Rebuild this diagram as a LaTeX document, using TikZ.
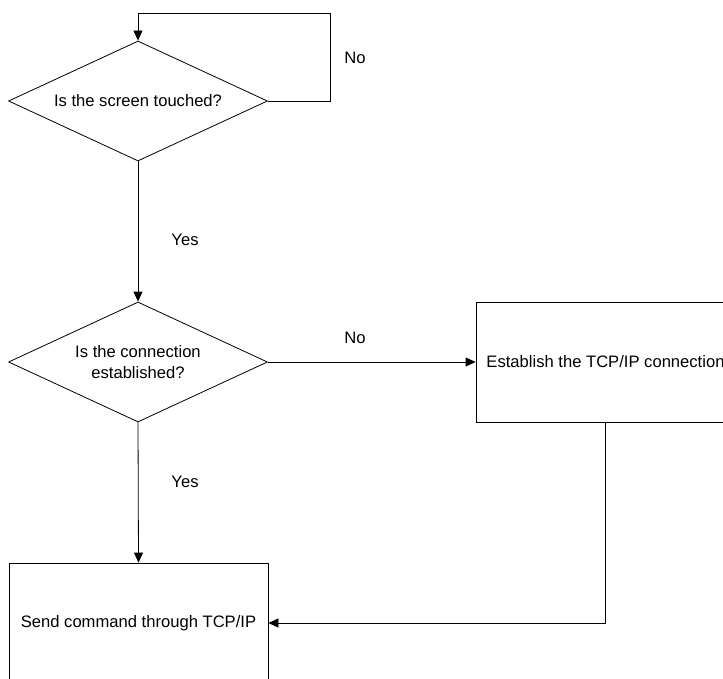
\documentclass[tikz,border=0pt]{standalone}
\usepackage{fontspec}
\setmainfont{Liberation Sans}
\usetikzlibrary{shapes.geometric,arrows.meta}
\begin{document}
\begin{tikzpicture}[x=1pt,y=-1pt,line width=0.8pt,
  font=\fontsize{16.6}{20.5}\selectfont,
  arr/.style={-{Triangle[length=10pt,width=9pt]}},
  decision/.style={draw,diamond,aspect=2.15,inner sep=0pt,minimum width=259pt,minimum height=120pt,align=center},
  procbox/.style={draw,rectangle,minimum width=259pt,minimum height=120pt,align=center}]
\clip (0,0) rectangle (723,679);
\def\loopx{330}\def\loopy{13}
\node[decision] (touched) at (138,101) {Is the screen touched?};
\node[decision] (conn) at (138,362) {Is the connection\\established?};
\node[procbox] (estab) at (605.5,362) {Establish the TCP/IP connection};
\node[procbox] (send) at (138.5,623) {Send command through TCP/IP};
\coordinate (loopA) at (\loopx,101);\coordinate (loopB) at (\loopx,\loopy);\coordinate (loopC) at (138,\loopy);
\draw[arr] (touched.east)--(loopA)--(loopB)--(loopC)--(touched.north);
\draw[arr] (touched.south)--(conn.north);
\draw[arr] (conn.east)--(estab.west);
\draw[arr] (conn.south)--(send.north);
\draw[arr] (estab.south)|-(send.east);
\node (no1) at (355,58) {No};\node (yes1) at (185,240) {Yes};
\node (no2) at (355,338) {No};\node (yes2) at (185,482) {Yes};
\end{tikzpicture}
\end{document}
